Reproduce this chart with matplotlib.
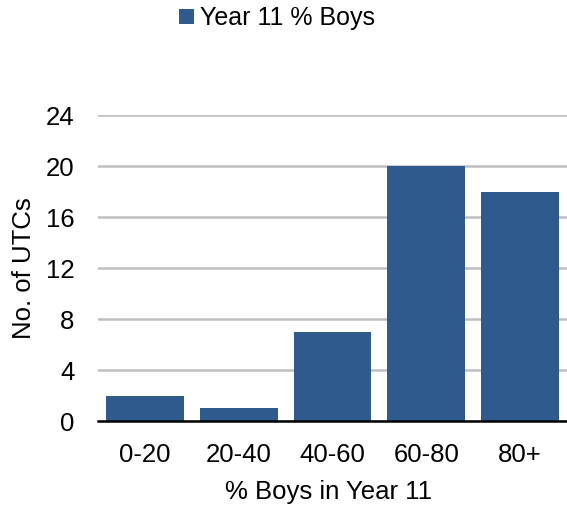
import matplotlib
matplotlib.use("Agg")
import matplotlib.pyplot as plt

categories = ["0-20", "20-40", "40-60", "60-80", "80+"]
values = [2, 1, 7, 20, 18]
yticks = [0, 4, 8, 12, 16, 20, 24]
series_name = "Year 11 % Boys"

plt.rcParams['font.family'] = ['Liberation Sans', 'DejaVu Sans']

fig = plt.figure(figsize=(5.67, 5.07), dpi=100)
ax = fig.add_axes([0.1728, 0.1696, 0.8272, 0.6034])
color = "#2F5A8E"
bars = ax.bar(range(len(categories)), values, width=0.83, color=color, label=series_name, zorder=3)
ax.set_xlim(-0.5, len(categories) - 0.5)
ax.set_ylim(0, 24)
ax.set_yticks(yticks)
ax.set_xticks(range(len(categories)))
ax.set_xticklabels(categories)
ax.yaxis.grid(True, color="#BFBFBF", linewidth=1.8, zorder=0)
ax.set_axisbelow(True)
for s in ["top", "right", "left"]:
    ax.spines[s].set_visible(False)
ax.spines["bottom"].set_linewidth(1.8)
ax.spines["bottom"].set_zorder(4)
ax.tick_params(axis="both", length=0, labelsize=18.5)
ax.tick_params(axis="x", pad=16)
ax.tick_params(axis="y", pad=17)
ax.set_xlabel("% Boys in Year 11", fontsize=18.5, va="center")
ax.set_ylabel("No. of UTCs", fontsize=18.5, va="center")
ax.xaxis.set_label_coords(0.5 - 0.008, -0.232)
ax.yaxis.set_label_coords(-0.158, 0.5)
fig.legend(handles=[bars], labels=[series_name], loc="center", bbox_to_anchor=(0.488, 0.964),
           frameon=False, fontsize=18, handlelength=0.6, handleheight=0.6, handletextpad=0.25)
fig.savefig("out.png", dpi=100)
